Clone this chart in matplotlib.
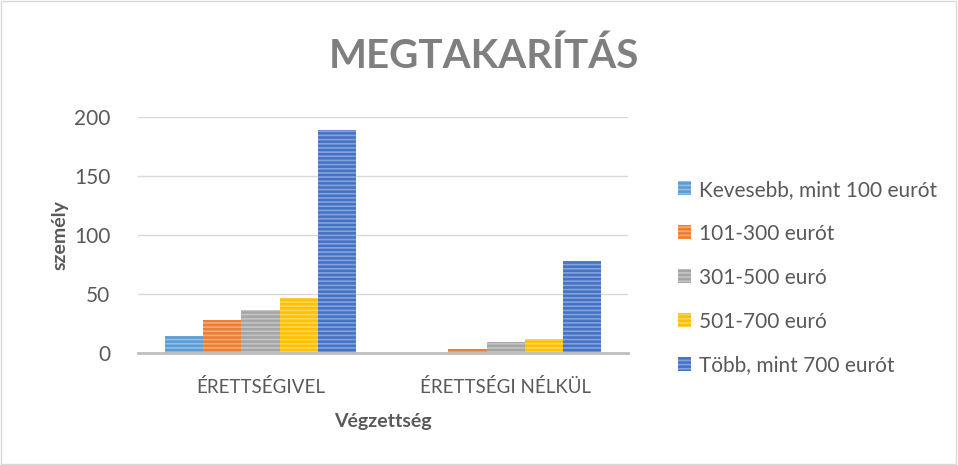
import numpy as np
import matplotlib.pyplot as plt
from matplotlib.patches import Rectangle

plt.rcParams["font.family"] = ["Lato", "DejaVu Sans"]
plt.rcParams["hatch.linewidth"] = 1.2

categories = ["ÉRETTSÉGIVEL", "ÉRETTSÉGI NÉLKÜL"]
series_names = [
    "Kevesebb, mint 100 eurót",
    "101-300 eurót",
    "301-500 euró",
    "501-700 euró",
    "Több, mint 700 eurót",
]
values = [
    [14, 0],
    [28, 3],
    [36, 9],
    [47, 12],
    [189, 78],
]
colors = ["#5B9BD5", "#ED7D31", "#A5A5A5", "#FFC000", "#4472C4"]
yticks = [0, 50, 100, 150, 200]

text_color = "#595959"

fig = plt.figure(figsize=(9.58, 4.65), dpi=100)
ax = fig.add_axes([0.144, 0.241, 0.512, 0.507])

x = np.arange(len(categories))
width = 0.156
for i, (name, vals, col) in enumerate(zip(series_names, values, colors)):
    offs = (i - 2) * width
    ax.bar(x + offs, vals, width, color=col, label=name,
           edgecolor=(1, 1, 1, 0.35), linewidth=0, hatch="----")

ax.set_xlim(-0.5, 1.5)
ax.set_ylim(0, 200)
ax.set_yticks(yticks)
ax.set_xticks(x)
ax.set_xticklabels(categories)
ax.grid(axis="y", color="#D9D9D9", linewidth=1)
ax.set_axisbelow(True)
for side in ["top", "right", "left"]:
    ax.spines[side].set_visible(False)
ax.spines["bottom"].set_color("#BFBFBF")
ax.spines["bottom"].set_linewidth(2)
ax.tick_params(axis="both", length=0, colors=text_color)
ax.tick_params(axis="y", labelsize=15, pad=20)
ax.tick_params(axis="x", labelsize=13.5, pad=18)

ax.set_ylabel("személy", fontsize=14, fontweight="bold", color=text_color, labelpad=4)
ax.set_xlabel("Végzettség", fontsize=14, fontweight="bold", color=text_color, labelpad=12)

fig.text(0.505, 0.88, "MEGTAKARÍTÁS", ha="center", va="center",
         fontsize=29, fontweight="bold", color="#7F7F7F")

ax.legend(loc="center left", bbox_to_anchor=(0.688, 0.403),
          bbox_transform=fig.transFigure, frameon=False,
          fontsize=15, labelcolor=text_color, handlelength=0.65,
          handleheight=0.65, handletextpad=0.35, labelspacing=1.15)

fig.patches.append(Rectangle((0.001, 0.002), 0.997, 0.995, transform=fig.transFigure,
                             fill=False, edgecolor="#D9D9D9", linewidth=1))

fig.savefig("out.png", dpi=100)
